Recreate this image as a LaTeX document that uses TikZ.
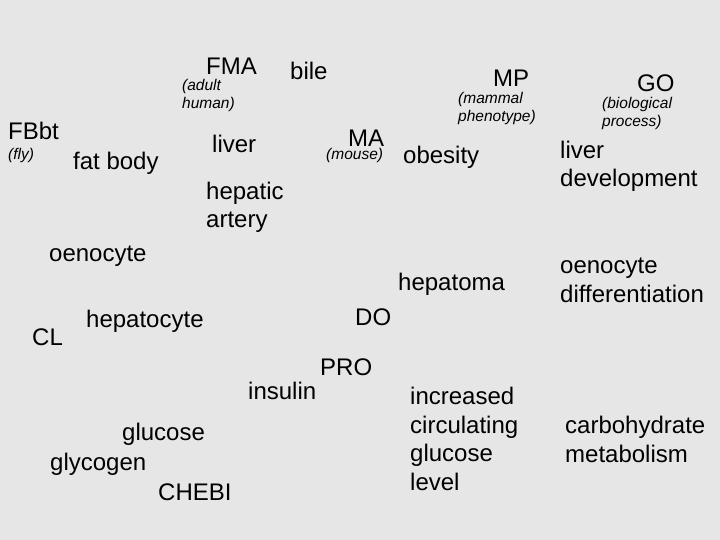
\documentclass[tikz,border=0pt]{standalone}
\usepackage{fontspec}
\setmainfont{Liberation Sans}
\definecolor{bggray}{RGB}{230,230,230}
\begin{document}
\begin{tikzpicture}[x=1pt,y=-1pt,
  term/.style={anchor=base west,inner sep=0pt,align=left,font=\fontsize{24}{28.5}\selectfont},
  note/.style={anchor=base west,inner sep=0pt,align=left,font=\fontsize{15.5}{18.5}\selectfont\itshape}]
\fill[bggray] (0,0) rectangle (720,540);
\useasboundingbox (0,0) rectangle (720,540);
% ontologies (multi-line nodes are placed by the baseline of their last line)
\node[term] (fma) at (206,75) {FMA};
\node[note] (fman) at (182,109) {(adult\\human)};
\node[term] (fbbt) at (8,140) {FBbt};
\node[note] (fbbtn) at (8,160) {(fly)};
\node[term] (ma) at (348,147) {MA};
\node[note] (man) at (326,160) {(mouse)};
\node[term] (mp) at (493,87) {MP};
\node[note] (mpn) at (458,122) {(mammal\\phenotype)};
\node[term] (go) at (637,92) {GO};
\node[note] (gon) at (602,127) {(biological\\process)};
\node[term] (cl) at (32,345) {CL};
\node[term] (do) at (355,325) {DO};
\node[term] (pro) at (320,375) {PRO};
\node[term] (chebi) at (158,500) {CHEBI};
% terms
\node[term] (bile) at (290,80) {bile};
\node[term] (fatbody) at (73,170) {fat body};
\node[term] (liver) at (212,153) {liver};
\node[term] (hepart) at (206,228) {hepatic\\artery};
\node[term] (obesity) at (403,164) {obesity};
\node[term] (liverdev) at (560,187) {liver\\development};
\node[term] (oenocyte) at (49,261) {oenocyte};
\node[term] (hepatocyte) at (86,327) {hepatocyte};
\node[term] (hepatoma) at (398,290) {hepatoma};
\node[term] (oenodiff) at (560,302) {oenocyte\\differentiation};
\node[term] (insulin) at (248,399) {insulin};
\node[term] (glucose) at (122,440) {glucose};
\node[term] (glycogen) at (50,470) {glycogen};
\node[term] (incglu) at (410,490) {increased\\circulating\\glucose\\level};
\node[term] (carbo) at (565,462) {carbohydrate\\metabolism};
\end{tikzpicture}
\end{document}
